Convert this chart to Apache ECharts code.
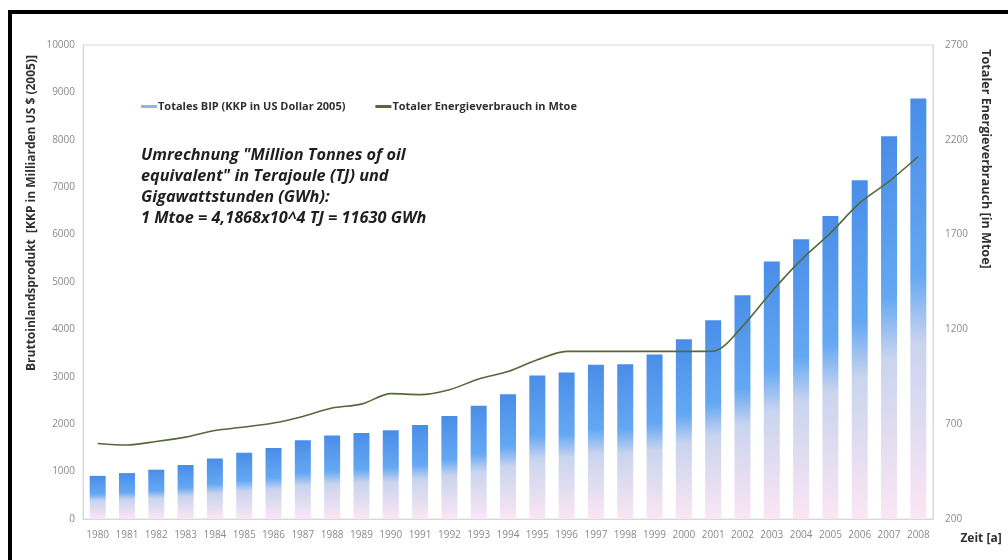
<!DOCTYPE html>
<html>
<head>
<meta charset="utf-8">
<script src="https://cdn.jsdelivr.net/npm/echarts@6/dist/echarts.min.js"></script>
<style>
  html, body { margin: 0; padding: 0; background: #ffffff; }
  #chart { width: 1008px; height: 560px; }
</style>
</head>
<body>
<div id="chart"></div>
<script>
// Years on the x axis
const years = ['1980','1981','1982','1983','1984','1985','1986','1987','1988','1989',
  '1990','1991','1992','1993','1994','1995','1996','1997','1998','1999',
  '2000','2001','2002','2003','2004','2005','2006','2007','2008'];

// Gross domestic product, PPP in billion US dollars (2005)
const bipValues = [910, 968, 1040, 1138, 1275, 1400, 1497, 1660, 1760, 1815,
  1870, 1985, 2175, 2390, 2630, 3030, 3090, 3255, 3265, 3470,
  3790, 4195, 4720, 5430, 5900, 6395, 7145, 8075, 8870];

// Total energy consumption in Mtoe
const energyValues = [598, 590, 609, 632, 667, 685, 706, 741, 785, 806,
  861, 856, 882, 938, 978, 1040, 1084, 1084, 1084, 1084,
  1084, 1085, 1216, 1400, 1567, 1708, 1867, 1981, 2112];

// Axis ranges and tick steps
const leftAxisRange = { min: 0, max: 10000, step: 1000 };
const rightAxisRange = { min: 200, max: 2700, step: 500 };

const noteLines = [
  'Umrechnung "Million Tonnes of oil',
  'equivalent" in Terajoule (TJ) und',
  'Gigawattstunden (GWh):',
  '1 Mtoe = 4,1868x10^4 TJ = 11630 GWh'
];

const FONT = 'Open Sans';
const tickStyle = { fontSize: 10, color: '#8a8a8a', fontFamily: FONT };
const plainNumber = v => String(v);

const barGradient = new echarts.graphic.LinearGradient(0, 0, 0, 1, [
  { offset: 0, color: '#4a8de8' },
  { offset: 0.42, color: '#64a8f3' },
  { offset: 0.58, color: '#c9d4ee' },
  { offset: 1, color: '#fbe6f3' }
]);

const chart = echarts.init(document.getElementById('chart'), null, { renderer: 'canvas' });

chart.setOption({
  backgroundColor: '#ffffff',
  animation: false,
  grid: {
    left: 83, right: 75, top: 45, bottom: 41,
    show: true, borderColor: '#d9d9d9', borderWidth: 1, backgroundColor: 'transparent'
  },
  legend: {
    left: 136, top: 96,
    itemGap: 30,
    itemWidth: 16, itemHeight: 3,
    textStyle: { fontSize: 11, fontWeight: 'bold', color: '#303030', fontFamily: FONT, padding: [0, 0, 0, -4] },
    data: [
      { name: 'Totales BIP (KKP in US Dollar 2005)', icon: 'rect', itemStyle: { color: '#8fb6ea' } },
      { name: 'Totaler Energieverbrauch in Mtoe', icon: 'rect', itemStyle: { color: '#55683a' } }
    ]
  },
  xAxis: {
    type: 'category',
    data: years,
    boundaryGap: true,
    axisLine: { lineStyle: { color: '#d9d9d9' } },
    axisTick: { show: false },
    axisLabel: Object.assign({ margin: 11, interval: 0 }, tickStyle)
  },
  yAxis: [
    {
      type: 'value',
      min: leftAxisRange.min, max: leftAxisRange.max, interval: leftAxisRange.step,
      axisLine: { show: true, lineStyle: { color: '#d9d9d9' } },
      axisTick: { show: false },
      splitLine: { show: false },
      axisLabel: Object.assign({ margin: 8, formatter: plainNumber }, tickStyle)
    },
    {
      type: 'value',
      min: rightAxisRange.min, max: rightAxisRange.max, interval: rightAxisRange.step,
      axisLine: { show: true, lineStyle: { color: '#d9d9d9' } },
      axisTick: { show: false },
      splitLine: { show: false },
      axisLabel: Object.assign({ margin: 12, formatter: plainNumber }, tickStyle)
    }
  ],
  series: [
    {
      name: 'Totales BIP (KKP in US Dollar 2005)',
      type: 'bar',
      data: bipValues,
      barWidth: 16,
      yAxisIndex: 0,
      itemStyle: { color: barGradient }
    },
    {
      name: 'Totaler Energieverbrauch in Mtoe',
      type: 'line',
      data: energyValues,
      yAxisIndex: 1,
      smooth: 0.3,
      symbol: 'none',
      lineStyle: { color: '#55683a', width: 1.6 },
      itemStyle: { color: '#55683a' },
      z: 5
    }
  ],
  graphic: [
    // frame lines along the top and left edges
    { type: 'rect', shape: { x: 8, y: 10, width: 1000, height: 4 }, style: { fill: '#000000' }, z: 100 },
    { type: 'rect', shape: { x: 8, y: 10, width: 4, height: 550 }, style: { fill: '#000000' }, z: 100 },
    // conversion note
    {
      type: 'text', left: 141, top: 145, z: 50,
      style: {
        text: noteLines.join('\n'),
        font: 'italic bold 16.3px "' + FONT + '"',
        lineHeight: 21,
        fill: '#1f1f1f'
      }
    },
    // left axis title
    {
      type: 'text', x: 32, y: 213, rotation: Math.PI / 2, z: 50,
      style: {
        text: 'Bruttoinlandsprodukt  [KKP in Milliarden US $ (2005)]',
        font: 'bold 12px "' + FONT + '"',
        fill: '#303030', align: 'center', verticalAlign: 'middle'
      }
    },
    // right axis title
    {
      type: 'text', x: 986, y: 159, rotation: -Math.PI / 2, z: 50,
      style: {
        text: 'Totaler Energieverbrauch [in Mtoe]',
        font: 'bold 12.6px "' + FONT + '"',
        fill: '#303030', align: 'center', verticalAlign: 'middle'
      }
    },
    // x axis title
    {
      type: 'text', x: 981, y: 539, z: 50,
      style: {
        text: 'Zeit [a]',
        font: 'bold 12px "' + FONT + '"',
        fill: '#303030', align: 'center', verticalAlign: 'middle'
      }
    }
  ]
});
</script>
</body>
</html>
